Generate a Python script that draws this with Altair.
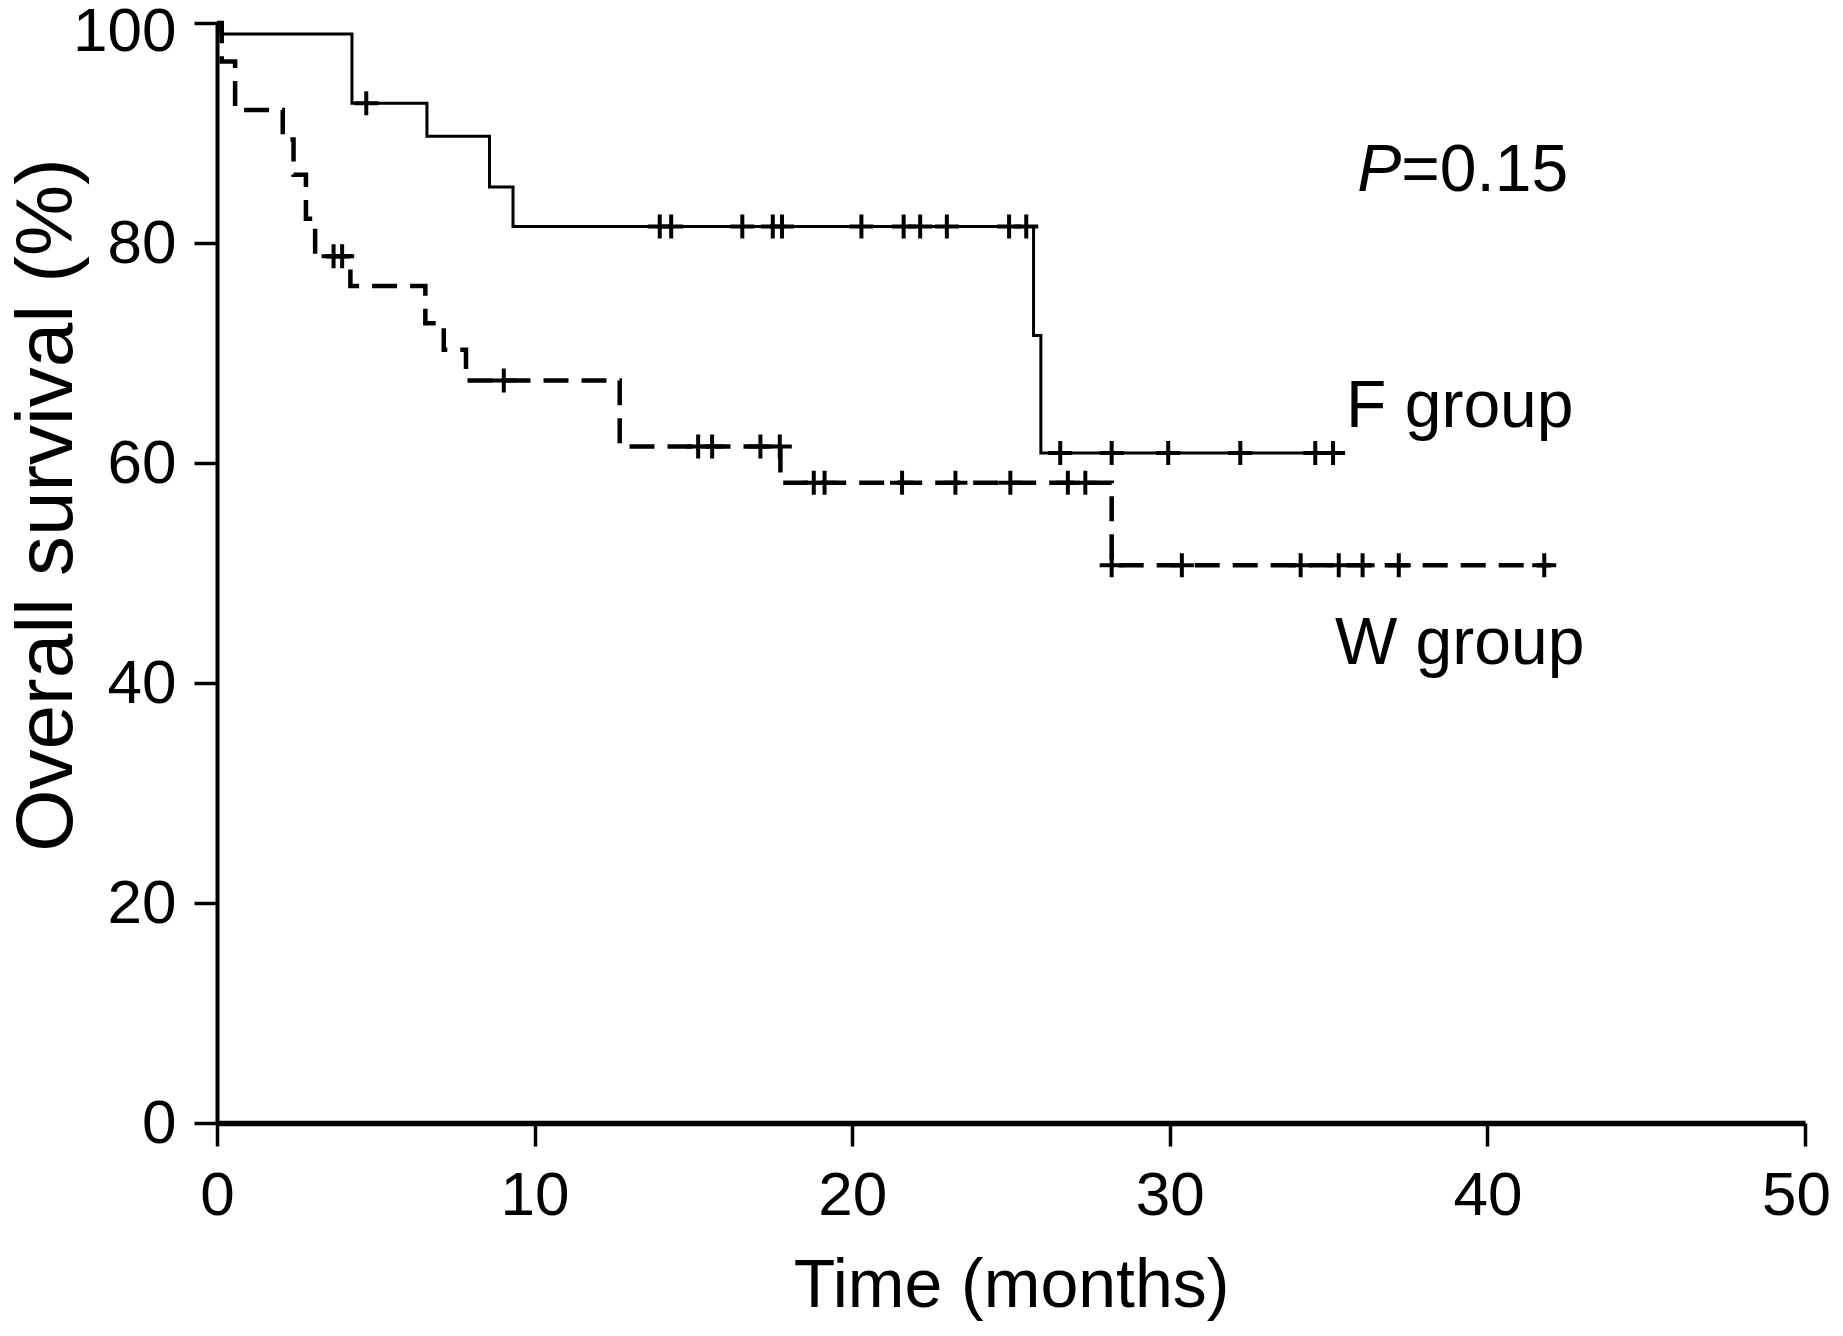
import altair as alt
import pandas as pd

# ---- Kaplan-Meier curves ----
f_times = [0, 0.12, 4.25, 6.61, 8.58, 9.32, 25.71, 25.94, 35.5]
f_surv = [100, 99.0, 92.7, 89.7, 85.1, 81.5, 71.6, 60.9, 60.9]
f_censor = [4.7, 13.94, 14.30, 16.54, 17.50, 17.79, 20.29, 21.62, 22.14, 22.98,
            24.94, 25.48, 26.55, 28.17, 29.95, 32.22, 34.58, 35.14]

w_times = [0, 0.15, 0.57, 2.07, 2.41, 2.80, 3.09, 4.20, 6.56, 7.14, 7.84,
           12.68, 17.74, 28.17, 42.0]
w_surv = [100, 96.5, 92.1, 89.4, 86.2, 82.2, 78.8, 76.1, 72.7, 70.3, 67.5,
          61.5, 58.2, 50.7, 50.7]
w_censor = [3.67, 3.94, 9.03, 15.15, 15.59, 17.11, 17.72, 18.79, 19.13, 21.57,
            23.25, 24.98, 26.79, 27.34, 28.17, 30.38, 34.12, 35.32, 36.07,
            37.21, 41.79]

x_ticks = [0, 10, 20, 30, 40, 50]
y_ticks = [0, 20, 40, 60, 80, 100]

# annotations
ann_text = ["F group", "W group"]
ann_x = [35.55, 35.2]
ann_y = [63.3, 41.77]
p_x = 35.9
p_y = 84.71


def level(times, surv, t):
    v = surv[0]
    for ti, si in zip(times, surv):
        if ti <= t:
            v = si
    return v


f_df = pd.DataFrame({"time": f_times, "surv": f_surv, "order": range(len(f_times))})
w_df = pd.DataFrame({"time": w_times, "surv": w_surv, "order": range(len(w_times))})
cens_df = pd.DataFrame({
    "time": f_censor + w_censor,
    "surv": [level(f_times, f_surv, t) for t in f_censor]
    + [level(w_times, w_surv, t) for t in w_censor],
})
ann_df = pd.DataFrame({"time": ann_x, "surv": ann_y, "label": ann_text})
p_df = pd.DataFrame({"time": [p_x], "surv": [p_y], "a": ["P"], "b": ["=0.15"]})

FONT = "Liberation Sans"

x_scale = alt.Scale(domain=[0, 50], nice=False, zero=False)
y_scale = alt.Scale(domain=[0, 100], nice=False)

x_axis = alt.Axis(
    values=x_ticks, title="Time (months)", grid=False, labelFlush=False,
    tickSize=23, tickWidth=3.5, domainWidth=5.5, domainColor="black",
    tickColor="black", labelColor="black", labelFont=FONT, labelFontSize=62,
    labelPadding=19, titleFont=FONT, titleFontSize=68, titleFontWeight="normal",
    titleColor="black", titleY=183, titleBaseline="alphabetic", format="d",
    labelOffset={"condition": {"test": "datum.value == 50", "value": -9}, "value": 0},
)
y_axis = alt.Axis(
    values=y_ticks, title="Overall survival (%)", grid=False,
    tickSize=23, tickWidth=3.5, domainWidth=4, domainColor="black",
    tickColor="black", labelColor="black", labelFont=FONT, labelFontSize=62,
    labelPadding=18, titleFont=FONT, titleFontSize=80, titleFontWeight="normal",
    titleColor="black", titleAngle=270, titleX=-146, titleY=481.5,
    titleAlign="center", titleBaseline="alphabetic", format="d",
    labelOffset={"condition": {"test": "datum.value == 100", "value": 8}, "value": 0},
)

X = alt.X("time:Q", scale=x_scale, axis=x_axis)
Y = alt.Y("surv:Q", scale=y_scale, axis=y_axis)

f_line = alt.Chart(f_df).mark_line(
    interpolate="step-after", color="black", strokeWidth=3
).encode(x=X, y=Y, order="order:Q")

w_line = alt.Chart(w_df).mark_line(
    interpolate="step-after", color="black", strokeWidth=4.5,
    strokeDash=[25, 13], strokeCap="butt"
).encode(x=X, y=Y, order="order:Q")

censors = alt.Chart(cens_df).mark_point(
    shape="M-1,0L1,0M0,-1L0,1", filled=False, size=576, strokeWidth=4,
    color="black", opacity=1
).encode(x=X, y=Y)

labels = alt.Chart(ann_df).mark_text(
    font=FONT, fontSize=66, align="left", baseline="alphabetic", color="black"
).encode(x=X, y=Y, text="label:N")

p_italic = alt.Chart(p_df).mark_text(
    font=FONT, fontSize=66, fontStyle="italic", align="left",
    baseline="alphabetic", color="black"
).encode(x=X, y=Y, text="a:N")

p_rest = alt.Chart(p_df).mark_text(
    font=FONT, fontSize=66, align="left", baseline="alphabetic", color="black",
    dx=44
).encode(x=X, y=Y, text="b:N")

chart = alt.layer(f_line, w_line, censors, labels, p_italic, p_rest).properties(
    width=1588, height=1100,
    autosize=alt.AutoSizeParams(type="none"),
    padding={"left": 209, "top": 15, "right": 30, "bottom": 198},
    background="white",
).configure_view(stroke=None)

chart.save("out.html", embed_options={"renderer": "svg", "actions": False})
